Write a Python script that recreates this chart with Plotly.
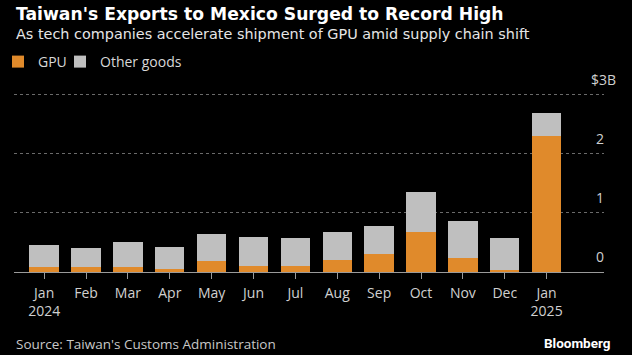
import plotly.graph_objects as go

months = ["Jan<br>2024", "Feb", "Mar", "Apr", "May", "Jun", "Jul", "Aug", "Sep",
          "Oct", "Nov", "Dec", "Jan<br>2025"]
gpu = [0.08, 0.08, 0.08, 0.055, 0.19, 0.11, 0.11, 0.21, 0.31, 0.67, 0.24, 0.04, 2.31]
other_goods = [0.38, 0.32, 0.42, 0.375, 0.46, 0.48, 0.47, 0.47, 0.47, 0.68, 0.62, 0.53, 0.39]
y_ticks = [0, 1, 2, 3]
y_tick_labels = ["0", "1", "2", "$3B"]

ORANGE = "#E08A2B"
GREY = "#BFBFBF"
FONT = "Roboto, Liberation Sans, sans-serif"
TFONT = "DejaVu Sans, sans-serif"
SFONT = "Open Sans, sans-serif"

W, H = 632, 355
ML, MR, MT, MB = 14, 28, 92, 83
PH = H - MT - MB
PW = W - ML - MR


def py(pix):
    return (H - MB - pix) / PH


def px(pix):
    return (pix - ML) / PW


fig = go.Figure()
fig.add_trace(go.Bar(x=months, y=gpu, name="GPU", legend="legend",
                     marker=dict(color=ORANGE, line=dict(width=0))))
fig.add_trace(go.Bar(x=months, y=other_goods, name="Other goods", legend="legend2",
                     marker=dict(color=GREY, line=dict(width=0))))

annotations = [
    dict(text="<b>Taiwan's Exports to Mexico Surged to Record High</b>", x=0, y=py(14),
         font=dict(size=17.2, color="white", family=TFONT)),
    dict(text="As tech companies accelerate shipment of GPU amid supply chain shift", x=0, y=py(34),
         font=dict(size=14.4, color="#E6E6E6", family=TFONT)),
    dict(text="Source: Taiwan's Customs Administration", x=0, y=py(344),
         font=dict(size=13.5, color="#C8C8C8", family=SFONT)),
]
for a in annotations:
    a.update(xref="paper", yref="paper", xanchor="left", yanchor="middle", showarrow=False)
annotations.append(dict(text="<b>Bloomberg</b>", xref="paper", yref="paper", x=px(613), y=py(343),
                        xanchor="right", yanchor="middle", showarrow=False,
                        font=dict(size=13.5, color="white", family=FONT)))
for v, t in zip(y_ticks, y_tick_labels):
    annotations.append(dict(text=t, xref="paper", yref="y", x=1, y=v, xanchor="right",
                            yanchor="bottom", yshift=4, xshift=2 if "B" not in t else 14,
                            showarrow=False, font=dict(size=14, color="#D0D0D0", family=SFONT)))

legend_common = dict(orientation="h", y=py(62), xanchor="left", yanchor="middle",
                     font=dict(size=14, color="#D8D8D8", family=SFONT),
                     bgcolor="rgba(0,0,0,0)", itemwidth=30)

fig.update_layout(
    width=W, height=H,
    margin=dict(l=ML, r=MR, t=MT, b=MB, autoexpand=False),
    paper_bgcolor="black", plot_bgcolor="black",
    barmode="stack", bargap=0.3,
    font=dict(family=FONT, color="#D0D0D0", size=14),
    showlegend=True,
    legend=dict(x=px(-2), **legend_common),
    legend2=dict(x=px(60), **legend_common),
    annotations=annotations,
    xaxis=dict(range=[-0.72, 13.37], showgrid=False, showline=True, linecolor="#9A9A9A",
               linewidth=1, ticks="outside", ticklen=6, tickcolor="#9A9A9A",
               ticklabelstandoff=2,
               tickfont=dict(size=14, color="#D0D0D0", family=SFONT), fixedrange=True),
    yaxis=dict(range=[0, 3.05], tickvals=[1, 2, 3], showticklabels=False, showgrid=True,
               gridcolor="#6A6A6A", griddash="dot", gridwidth=1, zeroline=False, fixedrange=True),
)

fig.write_html("out.html", config={"displayModeBar": False},
               post_script="document.body.style.margin='0';")
